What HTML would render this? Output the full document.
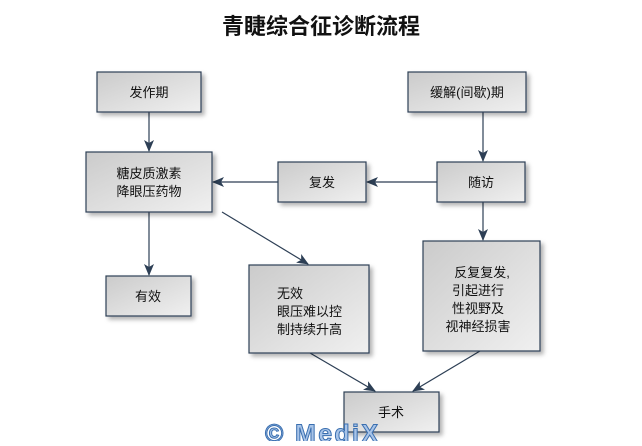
<!DOCTYPE html>
<html><head><meta charset="utf-8"><style>
body{margin:0;background:#fff;width:642px;height:441px;overflow:hidden}
text{font-family:"Liberation Sans","Noto Sans CJK SC",sans-serif;font-size:13px;fill:#111}
</style></head><body>
<svg width="642" height="441" viewBox="0 0 642 441">
<defs>
<linearGradient id="g" x1="0" y1="0" x2="1" y2="1"><stop offset="0" stop-color="#cbcbcb"/><stop offset="1" stop-color="#f0f0f0"/></linearGradient>
<filter id="s" x="-10%" y="-10%" width="130%" height="130%"><feDropShadow dx="3" dy="3" stdDeviation="2" flood-color="#000" flood-opacity="0.3"/></filter>
<marker id="a" markerWidth="12" markerHeight="10" refX="11" refY="5" orient="auto" markerUnits="userSpaceOnUse"><path d="M0,0 L12,5 L0,10 L3,5z" fill="#2d3f55"/></marker>
</defs>
<text x="321" y="34" text-anchor="middle" style="font-size:22px;font-weight:bold">青睫综合征诊断流程</text>
<g stroke="#2d3f55" stroke-width="1.2" fill="none" marker-end="url(#a)">
<line x1="149" y1="112" x2="149" y2="151"/>
<line x1="278" y1="182" x2="213" y2="182"/>
<line x1="437" y1="182" x2="367" y2="182"/>
<line x1="483" y1="112" x2="483" y2="161"/>
<line x1="483" y1="202" x2="483" y2="240"/>
<line x1="149" y1="212" x2="149" y2="275"/>
<line x1="222" y1="212" x2="308" y2="264"/>
<line x1="310" y1="353" x2="375" y2="391"/>
<line x1="480" y1="351" x2="413" y2="391"/>
</g>
<g fill="url(#g)" stroke="#2d3f55" stroke-width="1.2" filter="url(#s)">
<rect x="97" y="72" width="104" height="40"/>
<rect x="86" y="152" width="126" height="60"/>
<rect x="278" y="162" width="88" height="40"/>
<rect x="437" y="162" width="88" height="40"/>
<rect x="408" y="72" width="118" height="40"/>
<rect x="106" y="276" width="85" height="40"/>
<rect x="249" y="265" width="120" height="88"/>
<rect x="423" y="241" width="117" height="110"/>
<rect x="344" y="392" width="95" height="40"/>
</g>
<text x="149" y="97" text-anchor="middle">发作期</text>
<text x="149" y="178" text-anchor="middle">糖皮质激素</text>
<text x="149" y="196" text-anchor="middle">降眼压药物</text>
<text x="322" y="187" text-anchor="middle">复发</text>
<text x="481" y="187" text-anchor="middle">随访</text>
<text x="467" y="97" text-anchor="middle">缓解(间歇)期</text>
<text x="148" y="301" text-anchor="middle">有效</text>
<text x="277" y="298">无效</text>
<text x="277" y="316">眼压难以控</text>
<text x="277" y="334">制持续升高</text>
<text x="482" y="277" text-anchor="middle">反复复发,</text>
<text x="478" y="295" text-anchor="middle">引起进行</text>
<text x="478" y="313" text-anchor="middle">性视野及</text>
<text x="478" y="331" text-anchor="middle">视神经损害</text>
<text x="391" y="417" text-anchor="middle">手术</text>
<text x="265" y="442" textLength="113" style="font-size:25px;font-weight:bold;fill:#a8c4e8;stroke:#3a6fb0;stroke-width:1">© MediX</text>
</svg>
</body></html>
